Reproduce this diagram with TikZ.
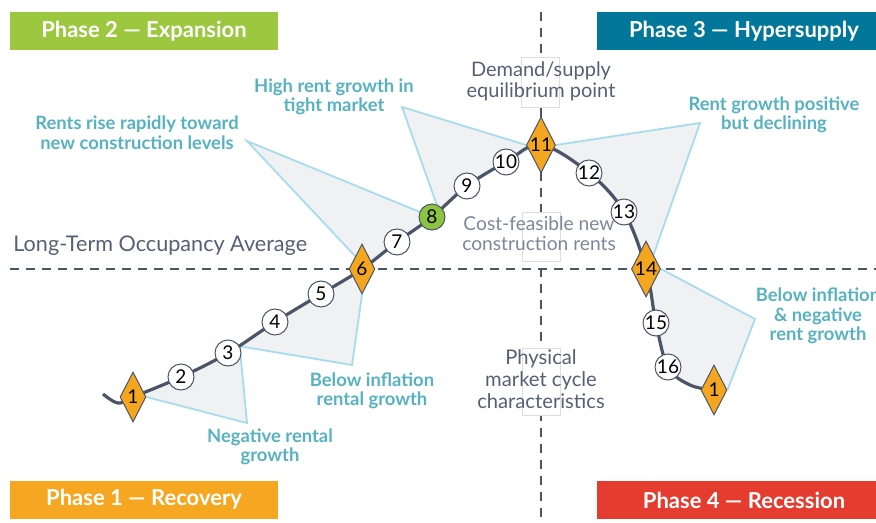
\documentclass[tikz,border=0pt]{standalone}
\usepackage{fontspec}
\setmainfont{Lato}
\usetikzlibrary{shapes.geometric}
\pgfdeclarelayer{back}
\pgfsetlayers{back,main}

\definecolor{growgreen}{HTML}{9BC83E}
\definecolor{hypeteal}{HTML}{037799}
\definecolor{recoorange}{HTML}{F5A722}
\definecolor{recered}{HTML}{E43D30}
\definecolor{noteteal}{HTML}{56B2C0}
\definecolor{calloutfill}{HTML}{F0F1F3}
\definecolor{calloutline}{HTML}{A6DCEC}
\definecolor{axisgray}{HTML}{4A5568}
\definecolor{infogray}{HTML}{566075}
\definecolor{softgray}{HTML}{7D879A}
\definecolor{turnorange}{HTML}{F5A61F}
\definecolor{peakgreen}{HTML}{8CC43F}

\begin{document}
\begin{tikzpicture}[x=0.5pt,y=-0.5pt,
  phase/.style={fill=#1,text=white,font=\bfseries\fontsize{11}{12}\selectfont,minimum height=19pt,inner sep=0},
  tag/.style={circle,draw=axisgray,fill=white,line width=0.5pt,minimum size=13pt,inner sep=0,font=\fontsize{9.5}{10}\selectfont},
  turn/.style={diamond,aspect=0.52,draw=axisgray,fill=turnorange,line width=0.5pt,minimum width=13pt,minimum height=25pt,inner sep=0,font=\fontsize{9.5}{10}\selectfont},
  note/.style={text=noteteal,font=\bfseries\fontsize{9.2}{9.8}\selectfont,align=center,inner sep=0},
  info/.style={text=infogray,font=\fontsize{10.1}{11}\selectfont,align=center,inner sep=0},
  shield/.style={fill=white,draw=black!13,line width=0.4pt,minimum width=19pt,inner sep=0},
  callout/.style={fill=calloutfill},
  calloutedge/.style={draw=calloutline,line width=0.9pt},
  axis/.style={draw=axisgray,line width=1.15pt,dash pattern=on 4.5pt off 3.5pt},
  cycleline/.style={draw=axisgray,line width=1.6pt}]
\useasboundingbox (0,0) rectangle (876,523);

\node[phase=growgreen,minimum width=134pt] (expansion) at (144,31) {Phase 2 — Expansion};
\node[phase=hypeteal,minimum width=147pt] (hypersupply) at (744,31) {Phase 3 — Hypersupply};
\node[phase=recoorange,minimum width=134pt] (recovery) at (144,499.5) {Phase 1 — Recovery};
\node[phase=recered,minimum width=147pt] (recession) at (744,500) {Phase 4 — Recession};

\coordinate (west) at (10,269);
\coordinate (east) at (880,269);
\coordinate (top) at (541,12);
\coordinate (bottom) at (541,530);
\coordinate (tail) at (103,394);
\coordinate (dip) at (118,403);
\coordinate (sag) at (690,385);
\coordinate (negtip) at (247,423);
\coordinate (lowtip) at (352,365);
\coordinate (risetip) at (247,141);
\coordinate (hightip) at (402,107);
\coordinate (postip) at (700,123);
\coordinate (dectip) at (755,319);

\node[turn] (n1) at (133,397) {1};
\node[tag] (n2) at (181,377) {2};
\node[tag] (n3) at (228,353) {3};
\node[tag] (n4) at (275,322) {4};
\node[tag] (n5) at (321,294) {5};
\node[turn] (n6) at (362,269) {6};
\node[tag] (n7) at (397,242) {7};
\node[tag,fill=peakgreen] (n8) at (432,217) {8};
\node[tag] (n9) at (467,186) {9};
\node[tag] (n10) at (506,162) {10};
\node[turn] (n11) at (541,145) {11};
\node[tag] (n12) at (589,173) {12};
\node[tag] (n13) at (624,212) {13};
\node[turn] (n14) at (646,269) {14};
\node[tag] (n15) at (656,323) {15};
\node[tag] (n16) at (668,367) {16};
\node[turn] (n17) at (714,390) {1};

\begin{pgfonlayer}{back}
\draw[axis] (west) -- (east);
\draw[axis] (top) -- (bottom);
\fill[callout] (n1.east) -- (negtip) -- (n3.30) -- (n3.center) -- (n2.center) -- (n1.center) -- cycle;
\fill[callout] (n3.30) -- (lowtip) -- (n6.south) -- (n6.center) -- (n5.center) -- (n4.center) -- (n3.center) -- cycle;
\fill[callout] (n6.north west) -- (risetip) -- (n8.center) -- (n7.center) -- (n6.center) -- cycle;
\fill[callout] (n8.70) -- (hightip) -- (n11.west) -- (n11.center) -- (n10.center) -- (n9.center) -- (n8.center) -- cycle;
\fill[callout] (n11.east) -- (postip) -- (n14.north east) -- (n14.center) -- (n13.center) -- (n12.center) -- (n11.center) -- cycle;
\fill[callout] (n14.east) -- (dectip) -- (n17.east) -- (n17.center) -- (sag) -- (n16.center) -- (n15.center) -- (n14.center) -- cycle;
\draw[calloutedge] (n1.east) -- (negtip) -- (n3.30);
\draw[calloutedge] (n3.30) -- (lowtip) -- (n6.south);
\draw[calloutedge] (n6.north west) -- (risetip) -- (n8.center);
\draw[calloutedge] (n8.70) -- (hightip) -- (n11.west);
\draw[calloutedge] (n11.east) -- (postip) -- (n14.north east);
\draw[calloutedge] (n14.east) -- (dectip) -- (n17.east);
\draw[cycleline] plot[smooth,tension=0.6] coordinates {(tail) (dip) (n1.center) (n2.center) (n3.center) (n4.center) (n5.center) (n6.center) (n7.center) (n8.center) (n9.center) (n10.center) (n11.center) (n12.center) (n13.center) (n14.center) (n15.center) (n16.center) (sag) (n17.center)};
\end{pgfonlayer}

\node[shield,minimum height=25pt] (demandbox) at (540,82) {};
\node[shield,minimum height=24.5pt] (costbox) at (541,236.5) {};
\node[shield,minimum height=33.5pt] (physbox) at (541,381.5) {};

\node[info,anchor=west,font=\fontsize{10.8}{11}\selectfont] (occupancy) at (13,246) {Long-Term Occupancy Average};
\node[info,font=\fontsize{10}{10.6}\selectfont] (demand) at (541,81.5) {Demand/supply\\equilibrium point};
\node[info,text=softgray,font=\fontsize{9.6}{10}\selectfont] (cost) at (539,234) {Cost-feasible new\\construction rents};
\node[info] (physical) at (541,379) {Physical\\market cycle\\characteristics};

\node[note] (risenote) at (137,133) {Rents rise rapidly toward\\new construction levels};
\node[note] (highnote) at (334,97) {High rent growth in\\tight market};
\node[note] (posnote) at (774,115) {Rent growth positive\\but declining};
\node[note] (decnote) at (818,316) {Below inflation\\\&~negative\\rent growth};
\node[note] (lownote) at (372,391) {Below inflation\\rental growth};
\node[note] (negnote) at (270,447) {Negative rental\\growth};
\end{tikzpicture}
\end{document}
